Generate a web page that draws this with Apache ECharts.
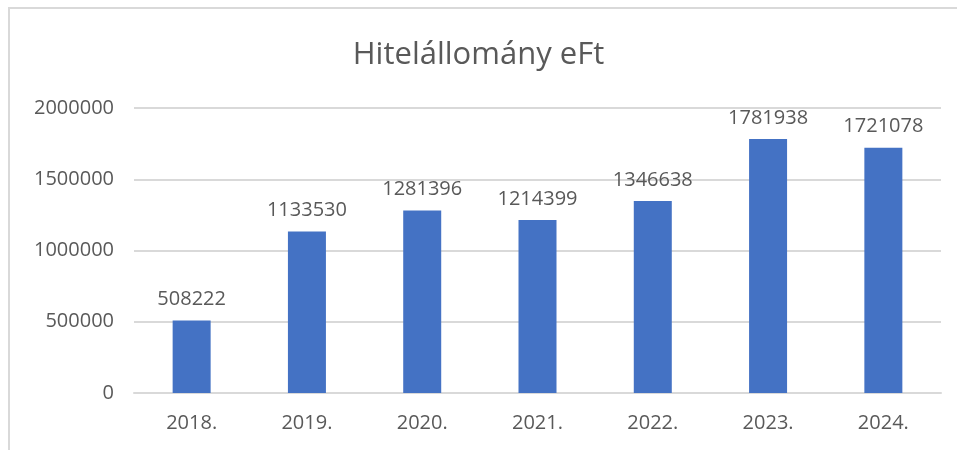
<!DOCTYPE html>
<html>
<head>
<meta charset="utf-8">
<title>Hitelállomány</title>
<style>
    html, body { margin:0; padding:0; background:#fff; }
    #frame {
        position:absolute; left:8px; top:7px; width:960px; height:460px;
        border-left:2px solid #d9d9d9; border-top:2px solid #d9d9d9;
        box-sizing:border-box;
    }
    #main { position:absolute; left:0; top:0; width:957px; height:450px; }
</style>
</head>
<body>
<div id="frame"></div>
<div id="main"></div>
<script src="https://cdn.jsdelivr.net/npm/echarts@6/dist/echarts.min.js"></script>
<script>
    // évek és hitelállomány (eFt)
    var years = ['2018.', '2019.', '2020.', '2021.', '2022.', '2023.', '2024.'];
    var loans = [508222, 1133530, 1281396, 1214399, 1346638, 1781938, 1721078];

    var textColor = '#595959';
    var font = 'Open Sans';

    var chart = echarts.init(document.getElementById('main'));
    var option = {
        animation: false,
        title: {
            text: 'Hitelállomány eFt',
            left: 'center',
            top: 35,
            textStyle: { fontFamily: font, fontSize: 31, fontWeight: 'normal', color: textColor }
        },
        grid: { left: 134, right: 16, top: 108, bottom: 57 },
        xAxis: {
            type: 'category',
            data: years,
            axisLine: { lineStyle: { color: '#d9d9d9', width: 2 } },
            axisTick: { show: false },
            axisLabel: { fontFamily: font, fontSize: 20, color: textColor, margin: 20 }
        },
        yAxis: {
            type: 'value',
            min: 0,
            max: 2000000,
            interval: 500000,
            axisLine: { show: false },
            axisTick: { show: false },
            splitLine: { lineStyle: { color: '#d9d9d9', width: 2 } },
            axisLabel: {
                fontFamily: font, fontSize: 20, color: textColor, margin: 20,
                formatter: function (v) { return String(v); }
            }
        },
        series: [{
            type: 'bar',
            data: loans,
            barWidth: 38,
            itemStyle: { color: '#4472C4' },
            label: {
                show: true,
                position: 'top',
                distance: 11,
                fontFamily: font,
                fontSize: 20,
                color: textColor
            }
        }]
    };
    chart.setOption(option);
</script>
</body>
</html>
